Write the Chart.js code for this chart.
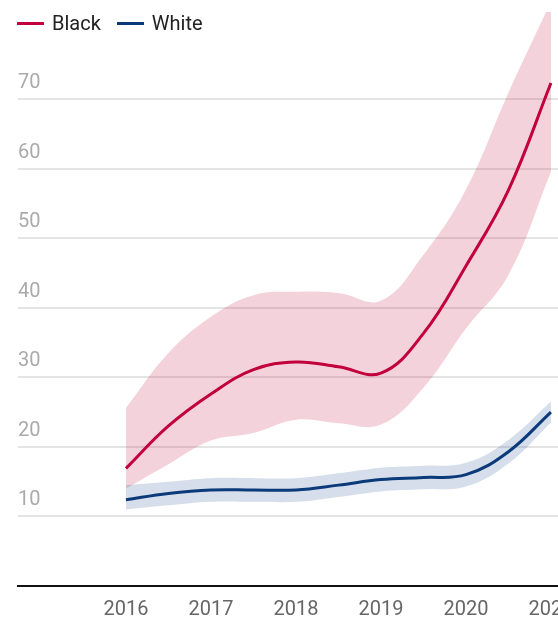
<!DOCTYPE html>
<html>
<head>
<meta charset="utf-8">
<title>Rate by year</title>
<script src="https://cdn.jsdelivr.net/npm/chart.js@4.4.1/dist/chart.umd.min.js"></script>
<style>
  html, body { margin: 0; padding: 0; background: #fff; overflow: hidden; }
  .wrap { position: relative; width: 640px; height: 640px; }
  .legend-row {
    position: absolute; left: 17px; top: 11px;
    display: flex; align-items: center;
    font: 20px Roboto, sans-serif; color: #222; line-height: 24px;
  }
  .legend-item { display: flex; align-items: center; margin-right: 16px; }
  .legend-line { width: 27px; height: 3px; margin-right: 8px; }
</style>
</head>
<body>
<div class="wrap">
  <canvas id="chart"></canvas>
  <div class="legend-row" id="legend"></div>
</div>
<script>
// smoothed rate per year, with confidence band
const years = [2016, 2016.5, 2017, 2017.5, 2018, 2018.5, 2019, 2019.5, 2020, 2020.5, 2021];
const blackRate  = [16.9, 23.0, 27.6, 31.1, 32.2, 31.5, 30.6, 36.3, 46.0, 56.9, 72.3];
const blackUpper = [25.6, 33.5, 38.7, 41.8, 42.3, 42.1, 41.0, 47.6, 57.0, 70.9, 84.0];
const blackLower = [14.0, 17.5, 20.9, 22.0, 23.9, 23.4, 23.2, 28.5, 37.0, 44.7, 59.5];
const whiteRate  = [12.4, 13.3, 13.8, 13.8, 13.8, 14.5, 15.3, 15.6, 16.0, 19.3, 25.0];
const whiteUpper = [14.5, 15.0, 15.5, 15.5, 15.5, 16.2, 17.0, 17.3, 17.7, 21.0, 26.5];
const whiteLower = [11.0, 11.6, 12.1, 12.1, 12.1, 12.8, 13.6, 13.9, 14.3, 17.6, 23.5];
const xTicks = [2016, 2017, 2018, 2019, 2020, 2021];
const yTicks = [10, 20, 30, 40, 50, 60, 70];

const series = [
  { label: 'Black', color: '#C1003C' },
  { label: 'White', color: '#0B3A7A' },
];

const toPoints = (vals) => vals.map((v, i) => ({ x: years[i], y: v }));

// legend built by hand so it can sit over the plot
const legend = document.getElementById('legend');
series.forEach((s) => {
  const item = document.createElement('span');
  item.className = 'legend-item';
  item.innerHTML = '<span class="legend-line" style="background:' + s.color + '"></span>' + s.label;
  legend.appendChild(item);
});

const line = (label, vals, color) => ({
  label, data: toPoints(vals),
  borderColor: color, borderWidth: 3,
  pointRadius: 0, tension: 0.4, fill: false, order: 0,
});
// bands are allowed past the top edge of the plot
const band = (label, vals, fill, bg, order) => ({
  label, data: toPoints(vals),
  borderColor: 'transparent', borderWidth: 0, backgroundColor: bg,
  pointRadius: 0, tension: 0.4, fill, order, clip: false,
});

new Chart(document.getElementById('chart'), {
  type: 'line',
  data: {
    datasets: [
      line('Black', blackRate, series[0].color),
      line('White', whiteRate, series[1].color),
      band('Black upper', blackUpper, '+1', 'rgba(195,30,75,0.2)', 2),
      band('Black lower', blackLower, false, 'transparent', 2),
      band('White upper', whiteUpper, '+1', 'rgba(45,90,150,0.2)', 1),
      band('White lower', whiteLower, false, 'transparent', 1),
    ]
  },
  options: {
    responsive: true,
    maintainAspectRatio: false,
    animation: false,
    layout: { padding: { left: 18, top: 0, right: 10, bottom: 6 } },
    plugins: { legend: { display: false }, tooltip: { enabled: false } },
    scales: {
      x: {
        type: 'linear', min: 2014.73, max: 2021.93,
        afterBuildTicks: (scale) => { scale.ticks = xTicks.map((v) => ({ value: v })); },
        grid: { display: false, drawTicks: false },
        border: { display: true, color: '#111', width: 2 },
        ticks: {
          color: '#666', padding: 12,
          font: { family: 'Roboto', size: 20 },
          callback: (v) => String(v),
          maxRotation: 0, autoSkip: false,
        }
      },
      y: {
        min: 0, max: 82.5,
        afterBuildTicks: (scale) => { scale.ticks = yTicks.map((v) => ({ value: v })); },
        grid: { color: '#e4e4e4', lineWidth: 2, drawTicks: false },
        border: { display: false },
        ticks: {
          mirror: true, padding: 0, labelOffset: -16,
          color: '#aaa',
          font: { family: 'Roboto', size: 20 },
        }
      }
    }
  }
});
</script>
</body>
</html>
